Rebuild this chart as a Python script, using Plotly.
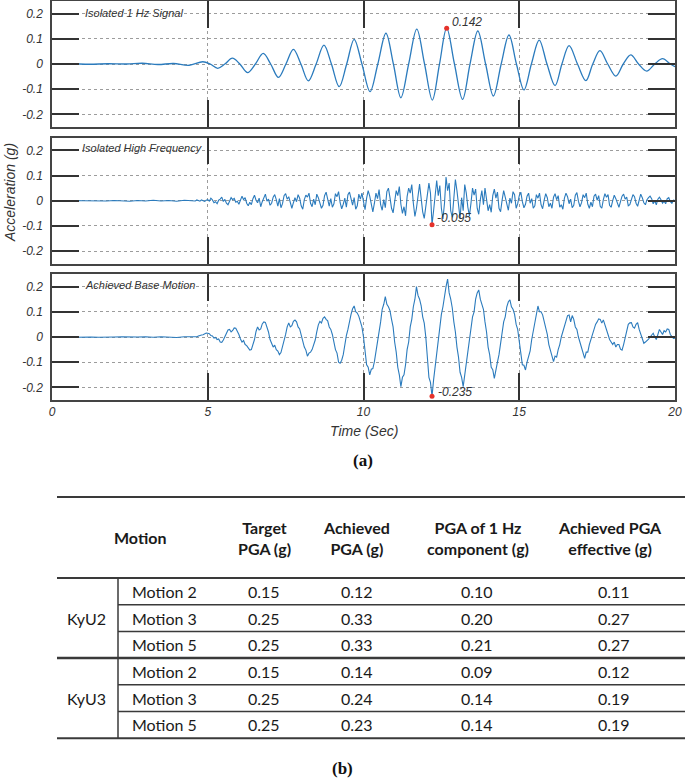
import plotly.graph_objects as go

W, H = 685, 781


def px(x):
    return x / W


def py(y):
    return 1 - y / H


# ---------------- data: panel (a) ----------------
# Isolated 1 Hz signal: peaks, troughs and zero crossings
sig_t = [0.0, 0.6, 1.2, 1.8, 2.4, 2.9, 3.4, 3.9, 4.4, 4.84, 5.08, 5.32, 5.55, 5.79, 6.03,
         6.28, 6.53, 6.78, 7.02, 7.27, 7.51, 7.75, 7.99, 8.23, 8.48, 8.73, 8.97, 9.22,
         9.46, 9.70, 9.95, 10.21, 10.46, 10.72, 10.96, 11.20, 11.45, 11.71, 11.96, 12.21,
         12.44, 12.67, 12.92, 13.18, 13.42, 13.67, 13.92, 14.17, 14.42, 14.67, 14.91,
         15.15, 15.39, 15.64, 15.89, 16.15, 16.37, 16.60, 16.87, 17.14, 17.36, 17.59,
         17.84, 18.10, 18.34, 18.58, 18.83, 19.09, 19.35, 19.60, 19.85, 20.0]
sig_v = [0.0, 0.001, -0.001, 0.001, 0.0, 0.003, -0.002, 0.002, -0.005, 0.009, 0.0, -0.017,
         0.0, 0.023, 0.0, -0.034, 0.0, 0.042, 0.0, -0.053, 0.0, 0.058, 0.0, -0.067, 0.0,
         0.075, 0.0, -0.090, 0.0, 0.098, 0.0, -0.110, 0.0, 0.122, 0.0, -0.134, 0.0, 0.138,
         0.0, -0.143, 0.0, 0.142, 0.0, -0.140, 0.0, 0.131, 0.0, -0.127, 0.0, 0.115, 0.0,
         -0.103, 0.0, 0.095, 0.0, -0.086, 0.0, 0.073, 0.0, -0.066, 0.0, 0.053, 0.0, -0.048,
         0.0, 0.036, 0.0, -0.028, 0.0, 0.021, 0.0, -0.011]

# quiet part before 4.5 s (both lower records)
pre_t = [0.0, 0.25, 0.5, 0.75, 1.0, 1.25, 1.5, 1.75, 2.0, 2.25, 2.5, 2.75, 3.0, 3.25,
         3.5, 3.75, 4.0, 4.25]
hf_pre = [0.0, 0.001, -0.001, 0.001, 0.0, -0.001, 0.001, -0.001, 0.001, 0.0, -0.002,
          0.001, -0.001, 0.002, -0.001, 0.001, -0.002, 0.002]
bm_pre = [0.0, 0.001, 0.0, -0.001, 0.001, 0.0, -0.001, 0.001, 0.0, 0.001, -0.001, 0.0,
          0.001, -0.001, 0.001, 0.0, -0.002, 0.001]

# records sampled every 0.05 s from 4.5 s to 20 s
rec_start, rec_step = 4.5, 0.05
hf_v = [0.001, 0.002, -0.001, 0.003, 0.000, -0.002, 0.003, 0.001, -0.003, 0.002,
        # 5 s
        0.004, -0.002, 0.010, 0.003, -0.008, -0.004, -0.012, 0.002, 0.006, 0.014,
        -0.003, 0.005, -0.010, -0.016, 0.000, 0.012, 0.004, 0.009, -0.006, -0.002,
        # 6 s
        -0.014, 0.006, 0.018, 0.004, 0.012, -0.010, -0.020, -0.006, -0.016, 0.008,
        0.022, 0.002, -0.008, 0.010, -0.024, -0.004, 0.016, 0.026, -0.002, 0.006,
        # 7 s
        -0.018, -0.010, 0.014, 0.024, 0.004, -0.022, 0.008, -0.028, -0.012, 0.020,
        0.028, 0.006, 0.016, -0.014, -0.030, -0.008, 0.012, -0.004, 0.024, 0.010,
        # 8 s
        -0.020, -0.034, 0.004, 0.022, 0.014, 0.030, -0.010, -0.024, 0.006, -0.016,
        0.026, 0.012, -0.006, -0.030, -0.018, 0.020, 0.034, 0.002, -0.022, 0.008,
        # 9 s
        -0.026, -0.012, 0.028, 0.016, 0.036, -0.008, -0.032, -0.014, 0.010, -0.026,
        0.024, 0.034, 0.004, -0.018, 0.012, -0.034, -0.020, 0.026, 0.006, 0.030,
        # 10 s
        -0.004, -0.036, 0.010, 0.040, 0.018, -0.022, -0.044, -0.010, 0.030, 0.008,
        0.044, -0.016, -0.038, 0.004, -0.028, 0.036, 0.050, 0.012, -0.030, -0.048,
        # 11 s
        0.006, 0.040, 0.020, 0.056, -0.014, -0.050, -0.024, -0.060, 0.016, 0.050,
        0.030, 0.064, -0.010, -0.062, -0.030, 0.024, 0.066, 0.010, -0.044, -0.070,
        # 12 s
        -0.020, 0.044, 0.070, 0.030, -0.095, -0.040, 0.036, 0.080, 0.020, 0.060,
        -0.030, -0.072, -0.010, 0.094, 0.040, 0.070, -0.040, -0.066, 0.010, 0.084,
        # 13 s
        0.040, -0.020, -0.070, 0.012, -0.040, 0.064, 0.030, -0.026, -0.060, -0.010,
        0.050, 0.022, 0.046, -0.030, -0.054, 0.004, 0.040, -0.016, 0.050, 0.006,
        # 14 s
        -0.040, -0.016, -0.046, 0.020, 0.046, 0.010, 0.034, -0.030, -0.044, 0.002,
        0.040, 0.014, -0.020, -0.038, 0.010, -0.010, 0.036, 0.024, -0.030, -0.012,
        # 15 s
        0.020, 0.034, -0.004, -0.028, -0.014, 0.018, 0.030, -0.010, 0.008, -0.030,
        -0.020, 0.024, 0.010, 0.030, -0.016, -0.032, 0.002, 0.028, 0.012, -0.024,
        # 16 s
        -0.010, -0.030, 0.014, 0.028, 0.004, 0.020, -0.026, -0.016, -0.034, 0.010,
        0.030, 0.016, -0.012, 0.006, -0.028, -0.018, 0.022, 0.032, -0.002, -0.024,
        # 17 s
        -0.008, 0.024, 0.012, 0.030, -0.014, -0.030, -0.006, -0.024, 0.018, 0.026,
        0.002, 0.020, -0.022, -0.030, 0.004, 0.028, 0.014, 0.024, -0.018, -0.026,
        # 18 s
        0.000, 0.022, 0.008, -0.014, -0.026, -0.004, 0.018, 0.026, 0.006, 0.014,
        -0.020, -0.016, 0.006, 0.024, 0.016, -0.010, -0.022, 0.004, 0.026, 0.012,
        # 19 s
        -0.008, -0.016, 0.004, 0.012, 0.018, 0.008, -0.012, 0.000, -0.016, 0.006,
        0.014, 0.004, -0.010, -0.002, -0.012, 0.008, 0.012, -0.004, -0.010, 0.002,
        # 20 s
        0.000]

bm_v = [0.000, 0.001, 0.002, 0.001, 0.004, 0.007, 0.008, 0.009, 0.012, 0.016,
        # 5 s
        0.015, 0.013, 0.006, 0.004, -0.004, -0.002, -0.010, -0.008, -0.020, -0.021,
        -0.012, 0.004, 0.018, 0.028, 0.030, 0.020, 0.026, 0.036, 0.035, 0.024,
        # 6 s
        0.010, -0.008, -0.020, -0.014, -0.030, -0.034, -0.044, -0.052, -0.050, -0.030,
        -0.010, 0.022, 0.040, 0.028, 0.032, 0.052, 0.060, 0.058, 0.040, 0.020,
        # 7 s
        -0.010, -0.030, -0.040, -0.032, -0.050, -0.056, -0.070, -0.062, -0.040, -0.022,
        0.010, 0.040, 0.056, 0.040, 0.045, 0.062, 0.067, 0.060, 0.040, 0.032,
        # 8 s
        0.010, -0.020, -0.040, -0.052, -0.076, -0.064, -0.060, -0.050, -0.030, -0.012,
        0.020, 0.048, 0.062, 0.056, 0.074, 0.080, 0.070, 0.064, 0.040, 0.030,
        # 9 s
        0.010, -0.026, -0.050, -0.064, -0.100, -0.104, -0.092, -0.070, -0.030, 0.006,
        0.030, 0.068, 0.090, 0.112, 0.123, 0.100, 0.095, 0.082, 0.060, 0.040,
        # 10 s
        0.000, -0.060, -0.110, -0.120, -0.150, -0.128, -0.125, -0.098, -0.060, -0.030,
        0.020, 0.060, 0.110, 0.130, 0.160, 0.130, 0.120, 0.105, 0.070, 0.040,
        # 11 s
        -0.020, -0.060, -0.120, -0.150, -0.197, -0.160, -0.150, -0.110, -0.050, -0.020,
        0.040, 0.070, 0.120, 0.150, 0.200, 0.165, 0.150, 0.125, 0.080, 0.055,
        # 12 s
        0.000, -0.070, -0.160, -0.180, -0.235, -0.170, -0.120, -0.070, 0.000, 0.030,
        0.090, 0.120, 0.170, 0.200, 0.230, 0.175, 0.150, 0.115, 0.060, 0.020,
        # 13 s
        -0.040, -0.080, -0.140, -0.160, -0.197, -0.150, -0.120, -0.070, -0.010, 0.020,
        0.080, 0.100, 0.150, 0.175, 0.187, 0.150, 0.130, 0.110, 0.060, 0.020,
        # 14 s
        -0.040, -0.070, -0.120, -0.130, -0.164, -0.125, -0.100, -0.070, -0.020, 0.010,
        0.060, 0.080, 0.120, 0.140, 0.147, 0.120, 0.110, 0.090, 0.050, 0.030,
        # 15 s
        -0.020, -0.060, -0.110, -0.112, -0.131, -0.100, -0.080, -0.055, -0.010, 0.025,
        0.070, 0.090, 0.123, 0.100, 0.100, 0.088, 0.060, 0.045, 0.010, -0.030,
        # 16 s
        -0.050, -0.070, -0.098, -0.076, -0.080, -0.050, -0.030, 0.000, 0.020, 0.050,
        0.070, 0.085, 0.087, 0.060, 0.085, 0.070, 0.040, 0.030, 0.000, -0.020,
        # 17 s
        -0.050, -0.060, -0.085, -0.060, -0.060, -0.030, -0.010, 0.018, 0.030, 0.050,
        0.060, 0.072, 0.070, 0.055, 0.068, 0.045, 0.030, 0.010, -0.010, -0.020,
        # 18 s
        -0.030, -0.020, -0.040, -0.030, -0.030, -0.048, -0.052, -0.030, 0.000, 0.030,
        0.050, 0.056, 0.057, 0.040, 0.035, 0.050, 0.057, 0.030, 0.010, -0.010,
        # 19 s
        -0.025, -0.020, -0.015, -0.008, 0.000, 0.010, 0.015, 0.000, -0.010, 0.010,
        0.030, 0.020, 0.010, 0.025, 0.020, 0.032, 0.030, 0.010, 0.000, -0.006,
        # 20 s
        -0.005]

panel_titles = ["Isolated 1 Hz Signal", "Isolated High Frequency", "Achieved Base Motion"]
peak_t = [12.67, 12.2, 12.2]
peak_v = [0.142, -0.095, -0.235]
peak_text = ["0.142", "-0.095", "-0.235"]

x_ticks = [0, 5, 10, 15, 20]
y_ticks = [-0.2, -0.1, 0, 0.1, 0.2]
y_ticktext = ["-0.2", "-0.1", "0", "0.1", "0.2"]

# ---------------- data: table (b) ----------------
tbl_headers = ["Motion", "Target<br>PGA (g)", "Achieved<br>PGA (g)",
               "PGA of 1 Hz<br>component (g)", "Achieved PGA<br>effective (g)"]
groups = ["KyU2", "KyU3"]
motions = ["Motion 2", "Motion 3", "Motion 5", "Motion 2", "Motion 3", "Motion 5"]
target_pga = [0.15, 0.25, 0.25, 0.15, 0.25, 0.25]
achieved_pga = [0.12, 0.33, 0.33, 0.14, 0.24, 0.23]
pga_1hz = [0.10, 0.20, 0.21, 0.09, 0.14, 0.14]
achieved_eff = [0.11, 0.27, 0.27, 0.12, 0.19, 0.19]

# ---------------- figure ----------------
BLUE = "#2b7bbd"
RED = "#e5322b"
DARK = "#333333"
AX_FONT = "Liberation Sans, Arial, sans-serif"

rec_t = [round(rec_start + rec_step * i, 3) for i in range(len(hf_v))]
rec_t_b = [round(rec_start + rec_step * i, 3) for i in range(len(bm_v))]
hf_t = pre_t + rec_t
hf_all = hf_pre + hf_v
bm_t = pre_t + rec_t_b
bm_all = bm_pre + bm_v

fig = go.Figure()
fig.add_trace(go.Scatter(x=sig_t, y=sig_v, mode="lines", xaxis="x", yaxis="y",
                         line=dict(color=BLUE, width=1.3, shape="spline", smoothing=1.0),
                         hoverinfo="skip", showlegend=False))
fig.add_trace(go.Scatter(x=hf_t, y=hf_all, mode="lines", xaxis="x2", yaxis="y2",
                         line=dict(color=BLUE, width=1.1), hoverinfo="skip", showlegend=False))
fig.add_trace(go.Scatter(x=bm_t, y=bm_all, mode="lines", xaxis="x3", yaxis="y3",
                         line=dict(color=BLUE, width=1.1), hoverinfo="skip", showlegend=False))

axis_ids = ["", "2", "3"]
for i, aid in enumerate(axis_ids):
    fig.add_trace(go.Scatter(x=[peak_t[i]], y=[peak_v[i]], mode="markers",
                             xaxis="x" + aid, yaxis="y" + aid,
                             marker=dict(color=RED, size=5), hoverinfo="skip",
                             showlegend=False))

y_pix = [(1, 127), (137.7, 263.7), (274, 400)]
common = dict(ticks="inside", ticklen=27, tickwidth=1.5, tickcolor=DARK,
              showline=True, linecolor="#444444", linewidth=1.5, mirror="ticks",
              showgrid=True, gridcolor="#9c9c9c", griddash="dot", gridwidth=1,
              zeroline=False, automargin=False,
              tickfont=dict(family=AX_FONT, size=12, color=DARK, style="italic"))

layout_axes = {}
for i, aid in enumerate(axis_ids):
    top, bot = y_pix[i]
    layout_axes["xaxis" + aid] = dict(common, range=[0, 20], domain=[px(52), px(675)],
                                      anchor="y" + aid, tickvals=x_ticks,
                                      showticklabels=(i == 2))
    layout_axes["yaxis" + aid] = dict(common, range=[-0.25, 0.25],
                                      domain=[py(bot), py(top)], anchor="x" + aid,
                                      tickvals=y_ticks, ticktext=y_ticktext,
                                      ticklabelstandoff=5)

annotations = []


def note(x, y, text, size, family=AX_FONT, italic=False, xanchor="center",
         yanchor="middle", color=DARK, **kw):
    f = dict(family=family, size=size, color=color)
    if italic:
        f["style"] = "italic"
    d = dict(x=x, y=y, xref="paper", yref="paper", text=text, showarrow=False,
             xanchor=xanchor, yanchor=yanchor, font=f)
    d.update(kw)
    annotations.append(d)


title_pos = [(83, 13), (80, 148), (83, 285)]
for (tx, ty), txt in zip(title_pos, panel_titles):
    note(px(tx), py(ty), txt, 11, italic=True, xanchor="left")

shifts = [(3, 6), (3, 7), (4, 4)]
for i, aid in enumerate(axis_ids):
    annotations.append(dict(x=peak_t[i], y=peak_v[i], xref="x" + aid, yref="y" + aid,
                            text=peak_text[i], showarrow=False, xanchor="left",
                            yanchor="middle", xshift=shifts[i][0], yshift=shifts[i][1],
                            font=dict(family=AX_FONT, size=12, color=DARK, style="italic")))

note(px(10), py(193), "Acceleration (g)", 14, italic=True, textangle=-90)
note(px(364), py(431), "Time (Sec)", 14, italic=True)
SERIF = "Liberation Serif, Times New Roman, serif"
note(px(363), py(461), "<b>(a)</b>", 17, family=SERIF, color="#111111")
note(px(342), py(768), "<b>(b)</b>", 17, family=SERIF, color="#111111")

# ---------------- table ----------------
T_FONT = "Lato, Carlito, Calibri, sans-serif"
T_COL = "#1a1a1a"
tbl_left, tbl_div, tbl_right = 57, 118, 685
tbl_top, tbl_head = 497, 578
row_h = 26.7
head_x = [140, 264, 356, 478, 610]
col_x = [264, 357, 477, 614]

for hx, htxt in zip(head_x, tbl_headers):
    note(px(hx), py(537.5), "<b>" + htxt + "</b>", 16, family=T_FONT, color=T_COL)

for r in range(len(motions)):
    yc = tbl_head + row_h * (r + 0.5)
    note(px(130), py(yc), motions[r], 16, family=T_FONT, color=T_COL, xanchor="left")
    for cx, vals in zip(col_x, [target_pga, achieved_pga, pga_1hz, achieved_eff]):
        note(px(cx), py(yc), f"{vals[r]:.2f}", 16, family=T_FONT, color=T_COL)

for g, gname in enumerate(groups):
    yc = tbl_head + row_h * (3 * g + 1.5)
    note(px(87), py(yc), gname, 16, family=T_FONT, color=T_COL)

shapes = []
LINE_C = "#3a3a3a"


def hline(y, x0, x1, w):
    shapes.append(dict(type="line", xref="paper", yref="paper", x0=px(x0), x1=px(x1),
                       y0=py(y), y1=py(y), line=dict(color=LINE_C, width=w)))


hline(tbl_top, tbl_left, tbl_right, 2)
hline(tbl_head, tbl_left, tbl_right, 2)
n_rows = len(motions)
for r in range(1, n_rows):
    yy = tbl_head + row_h * r
    if r % 3 == 0:
        hline(yy, tbl_left, tbl_right, 2.5)
    else:
        hline(yy, tbl_div, tbl_right, 1.5)
hline(tbl_head + row_h * n_rows, tbl_left, tbl_right, 2)
shapes.append(dict(type="line", xref="paper", yref="paper", x0=px(tbl_div), x1=px(tbl_div),
                   y0=py(tbl_head), y1=py(tbl_head + row_h * n_rows),
                   line=dict(color=LINE_C, width=1.5)))

fig.update_layout(width=W, height=H, autosize=False,
                  margin=dict(l=0, r=0, t=0, b=0),
                  paper_bgcolor="white", plot_bgcolor="white",
                  showlegend=False, annotations=annotations, shapes=shapes,
                  **layout_axes)

fig.write_html("out.html",
               config={"displayModeBar": False},
               post_script="document.body.style.margin='0px';"
                           "document.body.style.padding='0px';")
